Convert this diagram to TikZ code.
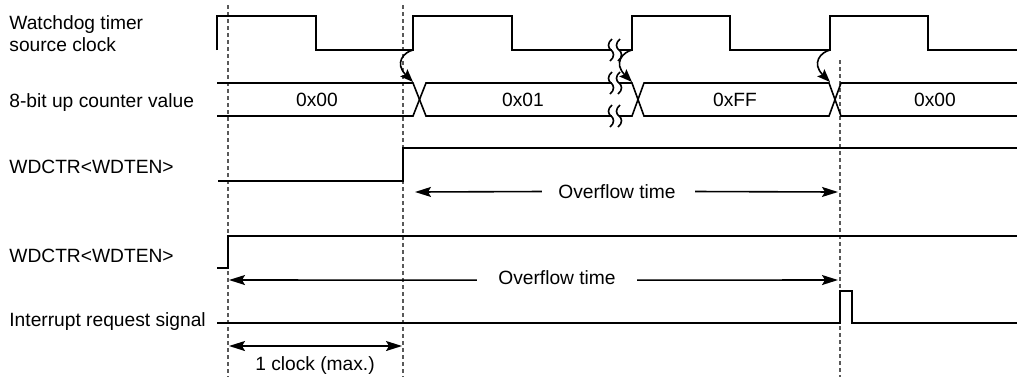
\documentclass[tikz,border=0pt]{standalone}
\usepackage{fontspec}
\setmainfont{Liberation Sans}
\usetikzlibrary{arrows.meta}

\begin{document}
\begin{tikzpicture}[x=0.5pt, y=-0.5pt,
	every node/.style={font=\fontsize{9.6}{11}\selectfont, inner sep=0pt},
	sig/.style={line width=0.8pt},
	clk/.style={line width=1pt},
	guide/.style={gray!70!black, line width=0.7pt, dash pattern=on 2pt off 1.5pt},
	arr/.style={line width=0.8pt, -{Stealth[length=8pt, width=5pt, inset=1.5pt]}},
	dblarr/.style={line width=0.8pt, {Stealth[length=8pt, width=5pt, inset=1.5pt]}-{Stealth[length=8pt, width=5pt, inset=1.5pt]}},
	carr/.style={line width=0.8pt, -{Stealth[length=6.5pt, width=5pt, inset=1.2pt]}}]
	\useasboundingbox (0,0) rectangle (1017,377);
	% labels
	\node[anchor=base west] (lclka) at (9,29) {Watchdog timer};
	\node[anchor=base west] (lclkb) at (9,51) {source clock};
	\node[anchor=base west] (lcnt) at (9,107) {8-bit up counter value};
	\node[anchor=base west] (len1) at (9,173) {WDCTR<WDTEN>};
	\node[anchor=base west] (len2) at (9,262) {WDCTR<WDTEN>};
	\node[anchor=base west] (lirq) at (9,326) {Interrupt request signal};
	% guide lines
	\draw[guide] (228,5) -- (228,377);
	\draw[guide] (403,5) -- (403,377);
	\draw[guide] (840,60) -- (840,377);
	% source clock
	\draw[clk] (217,50) -- (217,16) -- (316,16) -- (316,50) -- (413,50) -- (413,16) -- (512,16) -- (512,50)
		-- (632,50) -- (632,16) -- (730,16) -- (730,50) -- (830,50) -- (830,16) -- (928,16) -- (928,50) -- (1017,50);
	% counter value
	\draw[sig] (217,83) -- (413,83) -- (426,116) -- (632,116) -- (644,83) -- (829,83) -- (841,116) -- (1017,116);
	\draw[sig] (217,116) -- (413,116) -- (426,83) -- (632,83) -- (644,116) -- (829,116) -- (841,83) -- (1017,83);
	\node (v0) at (317,100) {0x00};
	\node (v1) at (523,100) {0x01};
	\node (vff) at (735,100) {0xFF};
	\node (v2) at (935,100) {0x00};
	% breaks
	\foreach \y in {50,83,116} {
		\fill[white] (611.5,\y-3) rectangle (618.5,\y+3);
		\foreach \x in {611,619}
			\draw[line width=0.8pt] (\x+1,\y-11) .. controls (\x-4,\y-7) and (\x-3,\y-2) .. (\x,\y)
				.. controls (\x+3,\y+2) and (\x+4,\y+7) .. (\x-1,\y+11);
	}
	% clock edge to counter change
	\foreach \x in {413,632,830}
		\draw[carr] (\x,50) .. controls (\x-9,52) and (\x-19,63) .. (\x,82);
	% enable signals
	\draw[sig] (218,181) -- (403,181) -- (403,148) -- (1017,148);
	\draw[sig] (217,268) -- (228,268) -- (228,236) -- (1017,236);
	% interrupt request
	\draw[sig] (217,323) -- (840,323) -- (840,291) -- (852,291) -- (852,323) -- (1017,323);
	% overflow times
	\coordinate (o1L) at (415,192);
	\coordinate (o1R) at (838,192);
	\node (ovf1) at (617,191.5) {Overflow time};
	\draw[arr] ([xshift=-8pt]ovf1.west) -- (o1L);
	\draw[arr] ([xshift=9.5pt]ovf1.east) -- (o1R);
	\coordinate (o2L) at (229,280);
	\coordinate (o2R) at (838,280);
	\node[anchor=base] (ovf2) at (557,284) {Overflow time};
	\draw[arr] ([xshift=-10.5pt, yshift=-1.5pt]ovf2.west) -- (o2L);
	\draw[arr] ([xshift=10.5pt, yshift=-1.5pt]ovf2.east) -- (o2R);
	% one clock
	\coordinate (c1L) at (229,346);
	\coordinate (c1R) at (402,346);
	\draw[dblarr] (c1L) -- (c1R);
	\node[anchor=base] (clk1) at (315,370) {1 clock (max.)};
\end{tikzpicture}
\end{document}
